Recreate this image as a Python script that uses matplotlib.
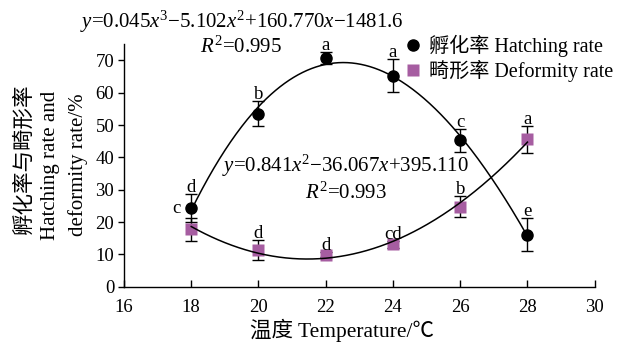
import numpy as np
import matplotlib
matplotlib.use("Agg")
import matplotlib.pyplot as plt

plt.rcParams['font.family'] = ['Liberation Serif', 'Noto Sans CJK SC']
plt.rcParams['mathtext.fontset'] = 'custom'
plt.rcParams['mathtext.rm'] = 'Liberation Serif'
plt.rcParams['mathtext.it'] = 'Liberation Serif:italic'

# Temperature treatments and measured rates (%)
temperature = [18, 20, 22, 24, 26, 28]
hatching = [24.3, 53.5, 70.8, 65.3, 45.3, 16.1]
hatching_err = [4.4, 3.8, 1.8, 5.2, 3.6, 5.2]
deformity = [17.8, 11.3, 9.9, 13.1, 24.8, 45.6]
deformity_err = [3.6, 3.1, 0.8, 1.0, 3.1, 4.1]
hatching_letters = ['c', 'b', 'a', 'a', 'c', 'e']
deformity_letters = ['d', 'd', 'd', 'cd', 'b', 'a']

hatch_eq = r'$y$=0.045$x^3$−5.102$x^2$+160.770$x$−1481.6'
hatch_r2 = r'$R^2$=0.995'
deform_eq = r'$y$=0.841$x^2$−36.067$x$+395.110'
deform_r2 = r'$R^2$=0.993'

xticks = [16, 18, 20, 22, 24, 26, 28, 30]
yticks = [0, 10, 20, 30, 40, 50, 60, 70]

purple = '#A65DA1'

W, H = 636, 347
fig = plt.figure(figsize=(W / 100, H / 100), dpi=100)
ax = fig.add_axes([124 / W, 1 - 286.7 / H, (594.7 - 124) / W, (286.7 - 44.2) / H])

x = np.array(temperature, dtype=float)
hy = np.array(hatching)
dy = np.array(deformity)

# fitted trend lines over the tested range
xs = np.linspace(18, 28, 300)
cubic = np.polyfit(x, hy, 3)
quad = np.polyfit(x, dy, 2)
ax.plot(xs, np.polyval(cubic, xs), color='black', lw=1.1, zorder=5)
ax.plot(xs, np.polyval(quad, xs), color='black', lw=1.1, zorder=5)

ax.errorbar(x, dy, yerr=deformity_err, fmt='none', ecolor='black',
            elinewidth=1.0, capsize=4.5, capthick=1.0, zorder=2)
ax.errorbar(x, hy, yerr=hatching_err, fmt='none', ecolor='black',
            elinewidth=1.0, capsize=4.5, capthick=1.0, zorder=2)
ax.plot(x, dy, 's', color=purple, ms=8, mec='none', zorder=3,
        label='畸形率 Deformity rate')
ax.plot(x, hy, 'o', color='black', ms=8, zorder=4,
        label='孵化率 Hatching rate')

# significance letters
hu = hy + np.array(hatching_err)
du = dy + np.array(deformity_err)
lab = dict(textcoords='offset points', fontsize=13.5)
for i, t in enumerate(temperature):
    if i == 0:
        ax.annotate(hatching_letters[i], (t, hy[i]), xytext=(-8, 0),
                    ha='right', va='center', **lab)
        ax.annotate(deformity_letters[i], (t, max(hu[i], du[i])), xytext=(0, 1.5),
                    ha='center', va='baseline', **lab)
    else:
        ax.annotate(hatching_letters[i], (t, hu[i]), xytext=(0, 1.5),
                    ha='center', va='baseline', **lab)
        ax.annotate(deformity_letters[i], (t, du[i]), xytext=(0, 1.5),
                    ha='center', va='baseline', **lab)

ax.set_xlim(16, 30)
ax.set_ylim(0, 75)
ax.set_xticks(xticks)
ax.set_yticks(yticks)
ax.tick_params(axis='x', direction='in', length=5, width=1, labelsize=13.5, pad=8.5)
ax.tick_params(axis='y', direction='out', length=4, width=1, labelsize=13.5, pad=3)
for s in ('top', 'right'):
    ax.spines[s].set_visible(False)
for s in ('left', 'bottom'):
    ax.spines[s].set_linewidth(1.0)

fig.text(341.5 / W, 1 - 330 / H, '温度 Temperature/℃', ha='center', va='center', fontsize=15.5)
fig.text(25 / W, 1 - 159 / H, '孵化率与畸形率', rotation=90, ha='center', va='center', fontsize=15.5)
fig.text(51 / W, 1 - 165 / H, 'Hatching rate and', rotation=90, ha='center', va='center', fontsize=15)
fig.text(78 / W, 1 - 165 / H, 'deformity rate/%', rotation=90, ha='center', va='center', fontsize=15)

fig.text(80 / W, 1 - 28 / H, hatch_eq, ha='left', va='baseline', fontsize=15)
fig.text(241 / W, 1 - 53 / H, hatch_r2, ha='center', va='baseline', fontsize=15)
fig.text(222 / W, 1 - 172 / H, deform_eq, ha='left', va='baseline', fontsize=15)
fig.text(346 / W, 1 - 199 / H, deform_r2, ha='center', va='baseline', fontsize=15)

handles, labels = ax.get_legend_handles_labels()
ax.legend(handles[::-1], labels[::-1], loc='upper left',
          bbox_to_anchor=(405 / W, 1 - 35 / H), bbox_transform=fig.transFigure,
          frameon=False, fontsize=14.5, handlelength=0.8, handletextpad=0.4,
          labelspacing=0.15, borderpad=0, borderaxespad=0)

fig.savefig('out.png', dpi=100)
